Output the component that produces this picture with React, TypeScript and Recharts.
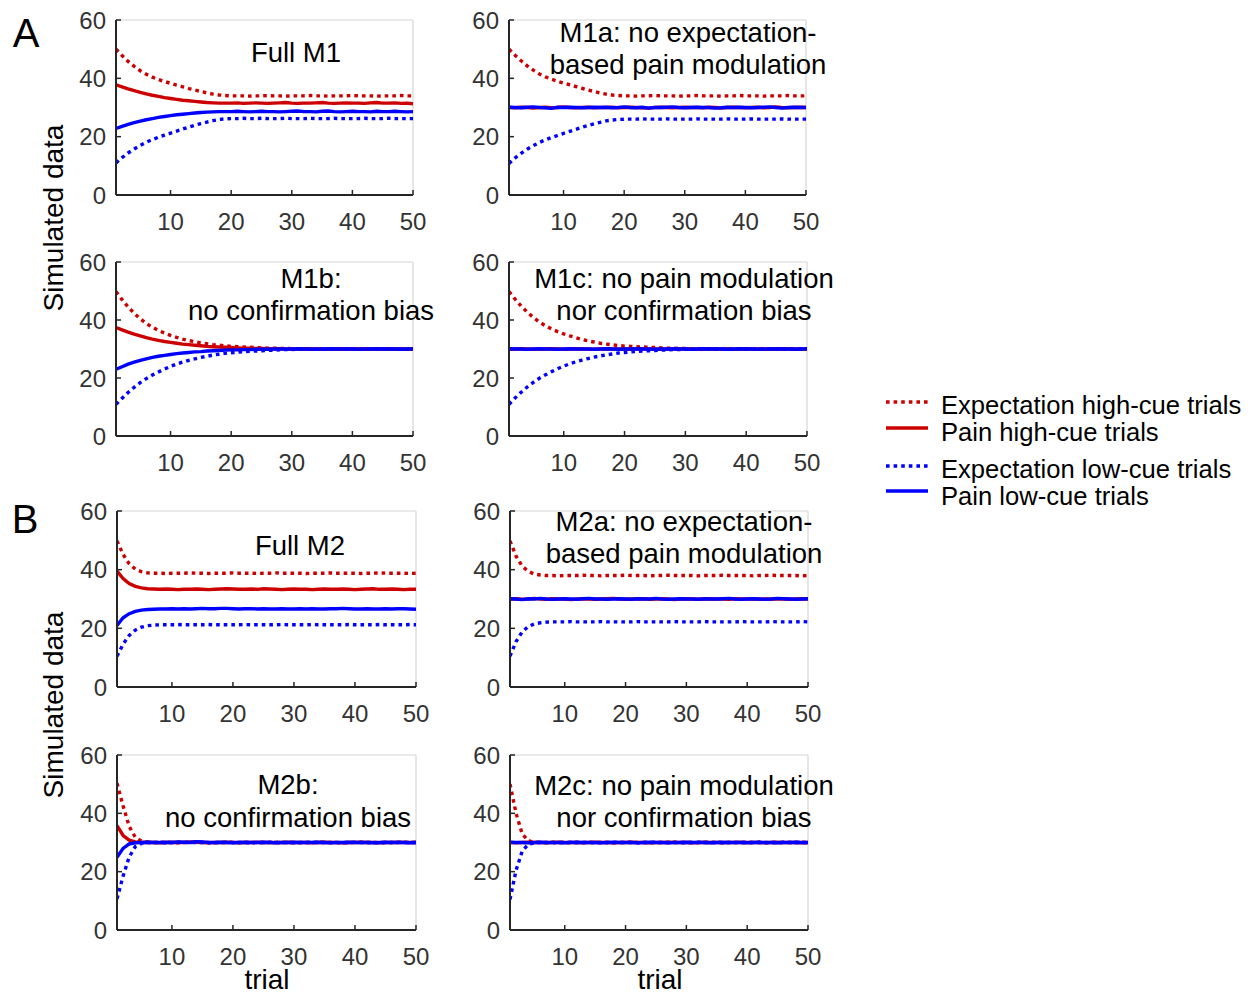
import React from "react";
import { LineChart, Line, XAxis, YAxis, ReferenceLine } from "recharts";

// x categories
const trials = [
  1, 2, 3, 4, 5, 6, 7, 8, 9, 10,
  11, 12, 13, 14, 15, 16, 17, 18, 19, 20,
  21, 22, 23, 24, 25, 26, 27, 28, 29, 30,
  31, 32, 33, 34, 35, 36, 37, 38, 39, 40,
  41, 42, 43, 44, 45, 46, 47, 48, 49, 50,
];

const yTicks = [0, 20, 40, 60];
const xTicks = [10, 20, 30, 40, 50];

// ---- Full M1 ----
const m1ExpHigh = [
  50.0, 47.8, 45.8, 44.1, 42.6, 41.4, 40.4, 39.6, 38.9, 38.3,
  37.7, 37.1, 36.5, 36.0, 35.5, 35.0, 34.6, 34.3, 34.1, 34.0,
  34.0, 34.0, 33.9, 34.0, 34.0, 34.1, 34.0, 34.0, 33.9, 34.0,
  34.0, 34.0, 34.1, 34.0, 34.0, 33.9, 34.0, 34.0, 34.0, 34.1,
  34.0, 34.0, 34.0, 33.9, 34.0, 34.0, 34.0, 34.1, 34.0, 34.0,
];
const m1PainHigh = [
  37.8, 37.1, 36.4, 35.8, 35.2, 34.7, 34.2, 33.8, 33.4, 33.1,
  32.8, 32.5, 32.3, 32.1, 31.9, 31.7, 31.6, 31.5, 31.5, 31.5,
  31.6, 31.4, 31.5, 31.6, 31.5, 31.4, 31.5, 31.6, 31.7, 31.5,
  31.4, 31.5, 31.5, 31.6, 31.7, 31.5, 31.4, 31.5, 31.6, 31.5,
  31.5, 31.4, 31.6, 31.7, 31.5, 31.5, 31.6, 31.4, 31.5, 31.3,
];
const m1ExpLow = [
  11.0, 12.8, 14.4, 15.8, 17.0, 18.1, 19.0, 19.8, 20.5, 21.2,
  21.9, 22.6, 23.3, 23.9, 24.5, 25.0, 25.5, 25.9, 26.1, 26.2,
  26.2, 26.3, 26.2, 26.2, 26.3, 26.2, 26.2, 26.2, 26.3, 26.2,
  26.2, 26.2, 26.3, 26.2, 26.2, 26.2, 26.3, 26.2, 26.2, 26.2,
  26.2, 26.3, 26.2, 26.2, 26.2, 26.3, 26.2, 26.2, 26.2, 26.2,
];
const m1PainLow = [
  22.8, 23.5, 24.2, 24.8, 25.3, 25.8, 26.2, 26.6, 26.9, 27.2,
  27.5, 27.7, 27.9, 28.1, 28.3, 28.4, 28.5, 28.6, 28.6, 28.6,
  28.7, 28.6, 28.5, 28.6, 28.7, 28.6, 28.6, 28.5, 28.6, 28.7,
  28.8, 28.6, 28.6, 28.5, 28.7, 28.8, 28.6, 28.5, 28.6, 28.7,
  28.6, 28.6, 28.5, 28.7, 28.6, 28.6, 28.7, 28.6, 28.5, 28.6,
];

// ---- M1a ----
const m1aExpHigh = [
  50.0, 47.9, 46.0, 44.3, 42.8, 41.5, 40.5, 39.7, 39.0, 38.4,
  37.8, 37.2, 36.6, 36.0, 35.5, 35.0, 34.6, 34.3, 34.1, 34.0,
  34.0, 33.9, 34.0, 34.0, 34.1, 34.0, 34.0, 34.0, 33.9, 34.0,
  34.0, 34.1, 34.0, 34.0, 34.0, 33.9, 34.0, 34.0, 34.1, 34.0,
  34.0, 34.0, 33.9, 34.0, 34.0, 34.0, 34.1, 34.0, 34.0, 34.0,
];
const m1aPainHigh = [
  30.0, 29.9, 30.1, 30.0, 29.8, 30.0, 30.1, 29.9, 30.0, 30.2,
  30.0, 29.9, 30.0, 30.1, 29.9, 30.0, 30.0, 30.1, 29.9, 30.0,
  30.1, 30.0, 29.9, 29.8, 30.0, 30.1, 30.0, 29.9, 30.0, 30.1,
  30.0, 30.0, 29.9, 30.1, 30.0, 29.8, 30.0, 30.1, 30.0, 29.9,
  30.0, 30.1, 29.9, 30.0, 30.2, 30.0, 29.9, 30.0, 30.1, 30.0,
];
const m1aExpLow = [
  10.8, 12.7, 14.3, 15.7, 16.9, 18.0, 18.9, 19.7, 20.4, 21.1,
  21.8, 22.5, 23.2, 23.8, 24.4, 24.9, 25.4, 25.7, 25.9, 26.0,
  26.0, 26.0, 26.1, 26.0, 26.0, 26.0, 26.1, 26.0, 26.0, 26.0,
  26.0, 26.1, 26.0, 26.0, 26.0, 26.0, 26.1, 26.0, 26.0, 26.0,
  26.1, 26.0, 26.0, 26.0, 26.0, 26.1, 26.0, 26.0, 26.0, 26.0,
];
const m1aPainLow = [
  30.1, 30.0, 29.9, 30.1, 30.2, 30.0, 29.9, 29.7, 30.1, 30.0,
  30.1, 30.0, 29.9, 30.0, 30.1, 30.0, 30.1, 29.9, 30.0, 30.2,
  30.0, 29.9, 30.1, 29.8, 30.0, 30.0, 30.1, 30.2, 30.0, 29.9,
  30.0, 30.1, 30.0, 30.0, 29.8, 29.9, 30.1, 30.0, 30.1, 30.0,
  29.9, 30.0, 30.1, 30.2, 30.0, 29.8, 30.0, 30.1, 30.0, 30.0,
];

// ---- M1b ----
const m1bExpHigh = [
  49.8, 47.0, 44.5, 42.3, 40.4, 38.8, 37.5, 36.4, 35.5, 34.7,
  34.0, 33.4, 32.9, 32.5, 32.1, 31.8, 31.5, 31.3, 31.1, 30.9,
  30.8, 30.7, 30.6, 30.5, 30.4, 30.3, 30.3, 30.2, 30.2, 30.1,
  30.1, 30.1, 30.0, 30.0, 30.0, 30.0, 30.0, 30.0, 30.0, 30.0,
  30.0, 30.0, 30.0, 30.0, 30.0, 30.0, 30.0, 30.0, 30.0, 30.0,
];
const m1bPainHigh = [
  37.4, 36.6, 35.8, 35.1, 34.5, 33.9, 33.4, 33.0, 32.6, 32.3,
  32.0, 31.7, 31.5, 31.3, 31.1, 30.9, 30.8, 30.7, 30.6, 30.5,
  30.4, 30.3, 30.3, 30.2, 30.2, 30.1, 30.1, 30.1, 30.0, 30.0,
  30.0, 30.1, 30.0, 30.0, 29.9, 30.0, 30.0, 30.1, 30.0, 30.0,
  30.0, 29.9, 30.0, 30.0, 30.1, 30.0, 30.0, 30.0, 29.9, 30.0,
];
const m1bExpLow = [
  10.9, 13.0, 15.0, 16.8, 18.4, 19.8, 21.0, 22.1, 23.1, 24.0,
  24.8, 25.5, 26.1, 26.6, 27.1, 27.5, 27.9, 28.2, 28.5, 28.7,
  28.9, 29.1, 29.2, 29.3, 29.4, 29.5, 29.6, 29.7, 29.8, 29.8,
  29.9, 29.9, 29.9, 30.0, 30.0, 30.0, 30.0, 30.0, 30.0, 30.0,
  30.0, 30.0, 30.0, 30.0, 30.0, 30.0, 30.0, 30.0, 30.0, 30.0,
];
const m1bPainLow = [
  23.0, 23.9, 24.8, 25.5, 26.1, 26.6, 27.1, 27.5, 27.8, 28.1,
  28.4, 28.6, 28.8, 29.0, 29.1, 29.3, 29.4, 29.5, 29.6, 29.7,
  29.7, 29.8, 29.8, 29.9, 29.9, 29.9, 30.0, 30.0, 30.0, 30.0,
  30.1, 30.0, 30.0, 29.9, 30.0, 30.0, 30.1, 30.0, 30.0, 30.0,
  29.9, 30.0, 30.0, 30.1, 30.0, 30.0, 30.0, 29.9, 30.0, 30.0,
];

// ---- M1c ----
const m1cExpHigh = [
  49.8, 47.2, 44.8, 42.7, 40.9, 39.3, 38.0, 36.9, 36.0, 35.2,
  34.5, 33.9, 33.3, 32.8, 32.4, 32.0, 31.7, 31.4, 31.2, 31.0,
  30.9, 30.8, 30.7, 30.6, 30.5, 30.4, 30.3, 30.3, 30.2, 30.2,
  30.1, 30.1, 30.1, 30.0, 30.0, 30.0, 30.0, 30.0, 30.0, 30.0,
  30.0, 30.0, 30.0, 30.0, 30.0, 30.0, 30.0, 30.0, 30.0, 30.0,
];
const m1cPainHigh = [
  29.9, 30.0, 30.1, 30.0, 29.9, 30.0, 30.0, 30.1, 30.0, 29.9,
  30.0, 30.1, 30.0, 30.0, 29.9, 30.0, 30.1, 30.0, 30.0, 30.0,
  29.9, 30.0, 30.1, 30.0, 30.0, 29.9, 30.0, 30.0, 30.1, 30.0,
  30.0, 29.9, 30.0, 30.1, 30.0, 30.0, 30.0, 29.9, 30.0, 30.1,
  30.0, 30.0, 29.9, 30.0, 30.0, 30.1, 30.0, 30.0, 29.9, 30.0,
];
const m1cExpLow = [
  10.9, 13.1, 15.1, 16.9, 18.5, 19.9, 21.1, 22.2, 23.2, 24.1,
  24.9, 25.6, 26.2, 26.7, 27.2, 27.6, 28.0, 28.3, 28.6, 28.8,
  29.0, 29.2, 29.3, 29.4, 29.5, 29.6, 29.7, 29.8, 29.8, 29.9,
  29.9, 29.9, 30.0, 30.0, 30.0, 30.0, 30.0, 30.0, 30.0, 30.0,
  30.0, 30.0, 30.0, 30.0, 30.0, 30.0, 30.0, 30.0, 30.0, 30.0,
];
const m1cPainLow = [
  30.1, 30.0, 30.0, 29.9, 30.0, 30.1, 30.0, 30.0, 29.9, 30.0,
  30.1, 30.0, 30.0, 30.0, 29.9, 30.0, 30.1, 30.0, 29.9, 30.0,
  30.0, 30.1, 30.0, 30.0, 29.9, 30.0, 30.0, 30.1, 30.0, 30.0,
  29.9, 30.0, 30.1, 30.0, 30.0, 30.0, 29.9, 30.0, 30.1, 30.0,
  30.0, 29.9, 30.0, 30.0, 30.1, 30.0, 30.0, 29.9, 30.0, 30.1,
];

// ---- Full M2 ----
const m2ExpHigh = [
  49.8, 45.2, 42.0, 40.2, 39.3, 38.9, 38.8, 38.8, 38.7, 38.8,
  38.8, 38.8, 38.9, 38.8, 38.8, 38.7, 38.8, 38.8, 38.8, 38.9,
  38.8, 38.8, 38.8, 38.7, 38.8, 38.8, 38.9, 38.8, 38.8, 38.8,
  38.8, 38.7, 38.8, 38.8, 38.8, 38.9, 38.8, 38.8, 38.8, 38.8,
  38.7, 38.8, 38.8, 38.9, 38.8, 38.8, 38.8, 38.8, 38.7, 38.8,
];
const m2PainHigh = [
  39.5, 37.0, 35.3, 34.3, 33.8, 33.5, 33.4, 33.3, 33.4, 33.3,
  33.2, 33.3, 33.3, 33.4, 33.3, 33.2, 33.3, 33.4, 33.5, 33.4,
  33.3, 33.3, 33.4, 33.3, 33.5, 33.4, 33.3, 33.2, 33.3, 33.4,
  33.3, 33.3, 33.2, 33.3, 33.4, 33.3, 33.3, 33.4, 33.3, 33.2,
  33.3, 33.4, 33.5, 33.3, 33.3, 33.4, 33.3, 33.2, 33.3, 33.3,
];
const m2ExpLow = [
  10.5, 14.6, 17.6, 19.4, 20.4, 20.9, 21.1, 21.2, 21.2, 21.2,
  21.3, 21.2, 21.2, 21.2, 21.2, 21.3, 21.2, 21.2, 21.2, 21.2,
  21.2, 21.3, 21.2, 21.2, 21.2, 21.2, 21.2, 21.3, 21.2, 21.2,
  21.2, 21.2, 21.3, 21.2, 21.2, 21.2, 21.2, 21.2, 21.3, 21.2,
  21.2, 21.2, 21.2, 21.3, 21.2, 21.2, 21.2, 21.2, 21.3, 21.2,
];
const m2PainLow = [
  21.0, 23.6, 25.0, 25.8, 26.2, 26.4, 26.5, 26.6, 26.6, 26.7,
  26.6, 26.7, 26.6, 26.7, 26.8, 26.7, 26.7, 26.8, 26.8, 26.7,
  26.6, 26.7, 26.7, 26.6, 26.7, 26.6, 26.6, 26.7, 26.6, 26.6,
  26.7, 26.6, 26.7, 26.6, 26.6, 26.7, 26.7, 26.8, 26.7, 26.6,
  26.6, 26.7, 26.6, 26.6, 26.7, 26.6, 26.7, 26.7, 26.6, 26.5,
];

// ---- M2a ----
const m2aExpHigh = [
  49.8, 44.6, 41.2, 39.4, 38.5, 38.2, 38.0, 38.0, 37.9, 38.0,
  38.0, 38.0, 38.1, 38.0, 38.0, 37.9, 38.0, 38.0, 38.0, 38.1,
  38.0, 38.0, 38.0, 37.9, 38.0, 38.0, 38.1, 38.0, 38.0, 38.0,
  38.0, 37.9, 38.0, 38.0, 38.0, 38.1, 38.0, 38.0, 38.0, 38.0,
  37.9, 38.0, 38.0, 38.1, 38.0, 38.0, 38.0, 38.0, 37.9, 38.0,
];
const m2aPainHigh = [
  30.0, 30.1, 29.9, 30.0, 30.2, 30.0, 29.9, 30.1, 30.0, 30.0,
  29.8, 30.0, 30.1, 30.0, 29.9, 30.0, 30.1, 30.2, 30.0, 29.9,
  30.0, 30.0, 30.1, 29.9, 30.0, 30.1, 30.0, 29.8, 30.0, 30.1,
  30.0, 29.9, 30.0, 30.1, 30.0, 30.0, 29.9, 30.1, 30.0, 30.0,
  30.1, 29.9, 30.0, 30.0, 30.1, 30.0, 29.9, 30.0, 30.1, 30.0,
];
const m2aExpLow = [
  10.5, 15.5, 18.8, 20.6, 21.5, 21.9, 22.1, 22.2, 22.2, 22.2,
  22.3, 22.2, 22.2, 22.2, 22.2, 22.3, 22.2, 22.2, 22.2, 22.2,
  22.2, 22.3, 22.2, 22.2, 22.2, 22.2, 22.2, 22.3, 22.2, 22.2,
  22.2, 22.2, 22.3, 22.2, 22.2, 22.2, 22.2, 22.2, 22.3, 22.2,
  22.2, 22.2, 22.2, 22.3, 22.2, 22.2, 22.2, 22.2, 22.3, 22.2,
];
const m2aPainLow = [
  30.1, 30.0, 29.8, 30.1, 30.0, 30.2, 30.0, 29.9, 30.0, 30.1,
  30.0, 29.9, 30.1, 30.2, 30.0, 30.0, 29.9, 30.0, 30.1, 30.0,
  29.9, 30.1, 30.0, 30.0, 30.2, 30.0, 29.9, 30.0, 30.1, 30.0,
  30.0, 29.9, 30.1, 30.0, 30.0, 30.1, 30.2, 30.0, 29.9, 30.0,
  30.1, 30.0, 29.9, 30.0, 30.2, 30.1, 30.0, 29.9, 30.0, 30.1,
];

// ---- M2b ----
const m2bExpHigh = [
  50.3, 42.5, 35.5, 31.8, 30.5, 30.1, 30.0, 30.0, 30.1, 30.0,
  29.9, 30.0, 30.0, 30.1, 30.0, 30.0, 29.9, 30.0, 30.0, 30.1,
  30.0, 30.0, 30.0, 29.9, 30.0, 30.0, 30.1, 30.0, 30.0, 30.0,
  29.9, 30.0, 30.0, 30.1, 30.0, 30.0, 30.0, 29.9, 30.0, 30.0,
  30.1, 30.0, 30.0, 30.0, 29.9, 30.0, 30.0, 30.1, 30.0, 30.0,
];
const m2bPainHigh = [
  35.8, 32.4, 30.8, 30.2, 30.0, 30.1, 30.0, 29.9, 30.0, 30.0,
  30.1, 30.0, 30.2, 30.1, 30.0, 29.9, 30.0, 30.0, 30.1, 30.0,
  29.9, 30.0, 30.0, 30.1, 30.0, 30.0, 29.9, 30.0, 30.1, 30.0,
  30.0, 30.0, 29.9, 30.0, 30.1, 30.0, 30.0, 29.9, 30.0, 30.0,
  30.1, 30.0, 30.0, 29.9, 30.0, 30.0, 30.1, 30.0, 30.0, 30.0,
];
const m2bExpLow = [
  10.7, 18.5, 25.0, 28.6, 29.7, 30.0, 30.0, 30.0, 29.9, 30.0,
  30.0, 30.1, 30.0, 30.0, 30.0, 29.9, 30.0, 30.0, 30.1, 30.0,
  30.0, 30.0, 29.9, 30.0, 30.0, 30.1, 30.0, 30.0, 30.0, 29.9,
  30.0, 30.0, 30.1, 30.0, 30.0, 30.0, 29.9, 30.0, 30.0, 30.1,
  30.0, 30.0, 30.0, 29.9, 30.0, 30.0, 30.1, 30.0, 30.0, 30.0,
];
const m2bPainLow = [
  24.9, 28.0, 29.5, 29.9, 30.0, 30.1, 30.0, 30.0, 30.1, 30.0,
  30.2, 30.1, 30.0, 30.3, 30.2, 30.0, 30.0, 30.1, 30.0, 29.9,
  30.0, 30.1, 30.0, 30.0, 30.1, 30.0, 29.9, 30.0, 30.0, 30.1,
  30.0, 30.0, 30.0, 30.1, 30.0, 29.9, 30.0, 30.0, 30.1, 30.0,
  30.0, 30.0, 29.9, 30.0, 30.1, 30.0, 30.0, 30.0, 29.9, 30.0,
];

// ---- M2c ----
const m2cExpHigh = [
  50.0, 40.0, 33.0, 30.6, 30.1, 30.0, 30.0, 30.1, 30.0, 30.0,
  29.9, 30.0, 30.0, 30.1, 30.0, 30.0, 30.0, 29.9, 30.0, 30.0,
  30.1, 30.0, 30.0, 30.0, 29.9, 30.0, 30.0, 30.1, 30.0, 30.0,
  30.0, 29.9, 30.0, 30.0, 30.1, 30.0, 30.0, 30.0, 29.9, 30.0,
  30.0, 30.1, 30.0, 30.0, 30.0, 29.9, 30.0, 30.0, 30.1, 30.0,
];
const m2cPainHigh = [
  30.0, 29.9, 30.0, 30.1, 30.0, 30.0, 29.9, 30.0, 30.1, 30.0,
  30.0, 30.0, 29.9, 30.0, 30.1, 30.0, 30.0, 29.9, 30.0, 30.0,
  30.1, 30.0, 30.0, 29.9, 30.0, 30.0, 30.1, 30.0, 30.0, 30.0,
  29.9, 30.0, 30.1, 30.0, 30.0, 29.9, 30.0, 30.0, 30.1, 30.0,
  30.0, 30.0, 29.9, 30.0, 30.1, 30.0, 30.0, 30.0, 29.9, 30.0,
];
const m2cExpLow = [
  10.5, 20.5, 27.0, 29.4, 29.9, 30.0, 30.0, 29.9, 30.0, 30.0,
  30.1, 30.0, 30.0, 30.0, 29.9, 30.0, 30.0, 30.1, 30.0, 30.0,
  30.0, 29.9, 30.0, 30.0, 30.1, 30.0, 30.0, 30.0, 29.9, 30.0,
  30.0, 30.1, 30.0, 30.0, 30.0, 29.9, 30.0, 30.0, 30.1, 30.0,
  30.0, 30.0, 29.9, 30.0, 30.0, 30.1, 30.0, 30.0, 30.0, 29.9,
];
const m2cPainLow = [
  30.1, 30.0, 30.0, 29.9, 30.0, 30.1, 30.0, 30.0, 30.0, 29.9,
  30.0, 30.1, 30.0, 30.0, 30.0, 29.9, 30.0, 30.1, 30.0, 30.0,
  30.0, 29.9, 30.0, 30.1, 30.0, 30.0, 29.9, 30.0, 30.0, 30.1,
  30.0, 30.0, 30.0, 29.9, 30.0, 30.1, 30.0, 30.0, 30.0, 29.9,
  30.0, 30.1, 30.0, 30.0, 29.9, 30.0, 30.0, 30.1, 30.0, 30.0,
];

const legendLabels = [
  "Expectation high-cue trials",
  "Pain high-cue trials",
  "Expectation low-cue trials",
  "Pain low-cue trials",
];

const RED = "#cc0000";
const BLUE = "#0000ff";
const AXIS = "#262626";
const TICK_TXT = "#333333";
const FONT = '"Liberation Sans", Arial, Helvetica, sans-serif';
const DOTS = "3.6 4";
const LW = 3.4;

// plot-area rectangles (page px) and title placement
const panels = [
  { series: [m1ExpHigh, m1PainHigh, m1ExpLow, m1PainLow], left: 116, top: 20, w: 297, h: 175,
    title: ["Full M1"], tx: 296, ty: [52] },
  { series: [m1aExpHigh, m1aPainHigh, m1aExpLow, m1aPainLow], left: 509, top: 20, w: 297, h: 175,
    title: ["M1a: no expectation-", "based pain modulation"], tx: 688, ty: [32, 64] },
  { series: [m1bExpHigh, m1bPainHigh, m1bExpLow, m1bPainLow], left: 116, top: 262, w: 297, h: 174,
    title: ["M1b:", "no confirmation bias"], tx: 311, ty: [278, 310] },
  { series: [m1cExpHigh, m1cPainHigh, m1cExpLow, m1cPainLow], left: 509, top: 262, w: 298, h: 174,
    title: ["M1c: no pain modulation", "nor confirmation bias"], tx: 684, ty: [278, 310] },
  { series: [m2ExpHigh, m2PainHigh, m2ExpLow, m2PainLow], left: 117, top: 511, w: 299, h: 176,
    title: ["Full M2"], tx: 300, ty: [545] },
  { series: [m2aExpHigh, m2aPainHigh, m2aExpLow, m2aPainLow], left: 510, top: 511, w: 298, h: 176,
    title: ["M2a: no expectation-", "based pain modulation"], tx: 684, ty: [521, 553] },
  { series: [m2bExpHigh, m2bPainHigh, m2bExpLow, m2bPainLow], left: 117, top: 755, w: 299, h: 175,
    title: ["M2b:", "no confirmation bias"], tx: 288, ty: [784, 817] },
  { series: [m2cExpHigh, m2cPainHigh, m2cExpLow, m2cPainLow], left: 510, top: 755, w: 298, h: 175,
    title: ["M2c: no pain modulation", "nor confirmation bias"], tx: 684, ty: [785, 817] },
];

const XTick = (props: any) => {
  const { x, y, payload } = props;
  return (
    <g>
      <line x1={x} y1={y} x2={x} y2={y - 5} stroke={AXIS} strokeWidth={1.5} />
      <text x={x} y={y + 26} textAnchor="middle" dominantBaseline="central"
        fontSize={24} fontFamily={FONT} fill={TICK_TXT}>{payload.value}</text>
    </g>
  );
};

const YTick = (props: any) => {
  const { x, y, payload } = props;
  return (
    <g>
      <line x1={x} y1={y} x2={x + 5} y2={y} stroke={AXIS} strokeWidth={1.5} />
      <text x={x - 10} y={y} textAnchor="end" dominantBaseline="central"
        fontSize={24} fontFamily={FONT} fill={TICK_TXT}>{payload.value}</text>
    </g>
  );
};

function SimPanel({ p }: { p: any }) {
  const [expHigh, painHigh, expLow, painLow] = p.series;
  const data = trials.map((t, i) => ({
    trial: t,
    expHigh: expHigh[i],
    painHigh: painHigh[i],
    expLow: expLow[i],
    painLow: painLow[i],
  }));
  return (
    <div style={{ position: "absolute", left: p.left - 60, top: p.top - 20 }}>
      <LineChart width={p.w + 90} height={p.h + 65} data={data}
        margin={{ top: 20, right: 30, bottom: 0, left: 0 }}>
        <ReferenceLine y={60} stroke="#d6d6d6" strokeWidth={1.2} />
        <ReferenceLine x={50} stroke="#d6d6d6" strokeWidth={1.2} />
        <XAxis dataKey="trial" type="number" domain={[1, 50]} ticks={xTicks} interval={0}
          height={45} tickSize={0} tickMargin={0} tickLine={false} allowDataOverflow
          axisLine={{ stroke: AXIS, strokeWidth: 2 }} tick={(t: any) => <XTick {...t} />} />
        <YAxis type="number" domain={[0, 60]} ticks={yTicks} interval={0}
          width={60} tickSize={0} tickMargin={0} tickLine={false} allowDataOverflow
          axisLine={{ stroke: AXIS, strokeWidth: 2 }} tick={(t: any) => <YTick {...t} />} />
        <Line dataKey="expHigh" stroke={RED} strokeWidth={LW} strokeDasharray={DOTS} dot={false} isAnimationActive={false} />
        <Line dataKey="painHigh" stroke={RED} strokeWidth={LW} dot={false} isAnimationActive={false} />
        <Line dataKey="expLow" stroke={BLUE} strokeWidth={LW} strokeDasharray={DOTS} dot={false} isAnimationActive={false} />
        <Line dataKey="painLow" stroke={BLUE} strokeWidth={LW} dot={false} isAnimationActive={false} />
      </LineChart>
    </div>
  );
}

export default function App() {
  const legendY = [402, 428, 466, 491];
  const legendTextY = [405, 432, 469, 496];
  const legendStyle = [
    { c: RED, d: DOTS }, { c: RED, d: undefined },
    { c: BLUE, d: DOTS }, { c: BLUE, d: undefined },
  ];
  return (
    <div style={{ position: "absolute", left: 0, top: 0, width: 1256, height: 995, background: "#fff" }}>
      {panels.map((p, i) => <SimPanel key={i} p={p} />)}
      <svg width={1256} height={995} style={{ position: "absolute", left: 0, top: 0, pointerEvents: "none" }}
        fontFamily={FONT}>
        <text x={26} y={33} fontSize={40} textAnchor="middle" dominantBaseline="central" fill="#000">A</text>
        <text x={25} y={519} fontSize={40} textAnchor="middle" dominantBaseline="central" fill="#000">B</text>
        <text transform="translate(53,218) rotate(-90)" fontSize={28} textAnchor="middle"
          dominantBaseline="central" fill="#000">Simulated data</text>
        <text transform="translate(53,705) rotate(-90)" fontSize={28} textAnchor="middle"
          dominantBaseline="central" fill="#000">Simulated data</text>
        <text x={267} y={979} fontSize={28} textAnchor="middle" dominantBaseline="central" fill="#000">trial</text>
        <text x={660} y={979} fontSize={28} textAnchor="middle" dominantBaseline="central" fill="#000">trial</text>
        {panels.map((p, i) =>
          p.title.map((line, j) => (
            <text key={`${i}-${j}`} x={p.tx} y={p.ty[j]} fontSize={27.5} textAnchor="middle"
              dominantBaseline="central" fill="#000">{line}</text>
          ))
        )}
        {legendLabels.map((lab, i) => (
          <g key={lab}>
            <line x1={886} x2={928} y1={legendY[i]} y2={legendY[i]} stroke={legendStyle[i].c}
              strokeWidth={LW} strokeDasharray={legendStyle[i].d} />
            <text x={941} y={legendTextY[i]} fontSize={25.6} dominantBaseline="central" fill="#000">{lab}</text>
          </g>
        ))}
      </svg>
    </div>
  );
}
